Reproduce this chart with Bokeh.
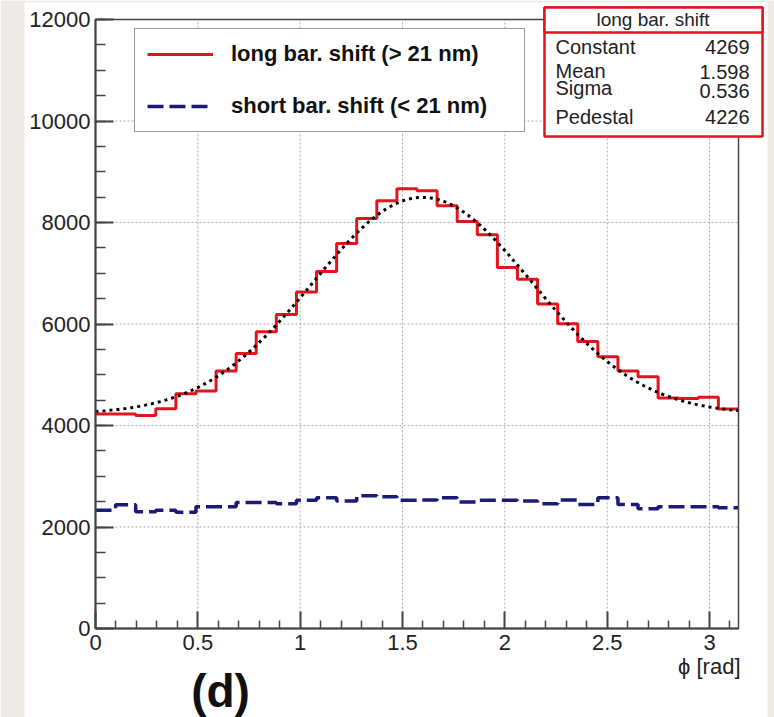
import numpy as np
from bokeh.plotting import figure
from bokeh.models import FixedTicker, Label, BoxAnnotation, Legend, LegendItem, Range1d
from bokeh.embed import file_html
from bokeh.resources import INLINE

# ---------------- data ----------------
n_bins = 32
x_min, x_max = 0.0, np.pi
y_min, y_max = 0, 12000

long_counts = [4225, 4225, 4199, 4332, 4624, 4678, 5076, 5421, 5847, 6186, 6631,
               7036, 7587, 8080, 8431, 8664, 8624, 8331, 8020, 7761, 7115, 6884,
               6392, 6007, 5654, 5355, 5076, 4963, 4544, 4532, 4558, 4325]
short_counts = [2332, 2438, 2299, 2332, 2292, 2398, 2398, 2485, 2485, 2458, 2525,
                2578, 2511, 2617, 2598, 2525, 2531, 2578, 2491, 2525, 2525, 2511,
                2458, 2531, 2445, 2578, 2445, 2359, 2398, 2398, 2398, 2378]

fit_constant = 4269
fit_mean = 1.598
fit_sigma = 0.536
fit_pedestal = 4226

legend_labels = ["long bar. shift (> 21 nm)", "short bar. shift (< 21 nm)"]
stats_title = "long bar. shift"
stats_names = ["Constant", "Mean", "Sigma", "Pedestal"]
stats_values = ["4269", "1.598", "0.536", "4226"]

x_tick_values = [0, 0.5, 1, 1.5, 2, 2.5, 3]
x_tick_labels = ["0", "0.5", "1", "1.5", "2", "2.5", "3"]
x_minor_ticks = [0.1, 0.2, 0.3, 0.4, 0.6, 0.7, 0.8, 0.9, 1.1, 1.2, 1.3, 1.4, 1.6, 1.7,
                 1.8, 1.9, 2.1, 2.2, 2.3, 2.4, 2.6, 2.7, 2.8, 2.9, 3.1]
y_tick_values = [0, 2000, 4000, 6000, 8000, 10000, 12000]
y_tick_labels = ["0", "2000", "4000", "6000", "8000", "10000", "12000"]
y_minor_ticks = list(range(0, 12001, 500))
x_title = "\u03d5 [rad]"
panel_tag = "(d)"

# ---------------- layout (pixels) ----------------
W, H = 774, 717
FL, FR, FT, FB = 95, 738, 19, 628      # data frame edges on the canvas
px_x = (FR - FL) / (x_max - x_min)
px_y = (FB - FT) / (y_max - y_min)
x_lo = x_min - FL / px_x
x_hi = x_max + (W - FR) / px_x
y_lo = y_min - (H - FB) / px_y
y_hi = y_max + FT / px_y

def sy(py):
    return H - py

FONT = "Liberation Sans"
RED = "#e5141c"
NAVY = "#1a1a78"
AXC = "#444444"
BEIGE = "#eeebe6"

# ---------------- derived ----------------
edges = np.linspace(x_min, x_max, n_bins + 1)
long_y = list(long_counts) + [long_counts[-1]]
short_y = list(short_counts) + [short_counts[-1]]
fx = np.linspace(x_min, x_max, 400)
fy = fit_constant * np.exp(-0.5 * ((fx - fit_mean) / fit_sigma) ** 2) + fit_pedestal

p = figure(frame_width=W, frame_height=H, min_border=0,
           x_range=Range1d(x_lo, x_hi), y_range=Range1d(y_lo, y_hi),
           output_backend="svg", toolbar_location=None)
p.title.visible = False
p.background_fill_color = "white"
p.border_fill_color = "white"
p.outline_line_color = None
p.xgrid.visible = False
p.ygrid.visible = False

# page strips
for l, r, b, t in [(0, 24, 0, H), (767, W, 0, H), (0, W, H - 2, H)]:
    p.add_layout(BoxAnnotation(left=l, right=r, bottom=b, top=t,
                               left_units="screen", right_units="screen",
                               bottom_units="screen", top_units="screen",
                               fill_color=BEIGE, fill_alpha=1.0, line_color=None, level="underlay"))

# axes at the data frame
p.xaxis.fixed_location = y_min
p.xaxis.bounds = (x_min, x_max)
p.yaxis.fixed_location = x_min
p.yaxis.bounds = (y_min, y_max)
p.xaxis.ticker = FixedTicker(ticks=x_tick_values, minor_ticks=x_minor_ticks)
p.xaxis.major_label_overrides = {v: l for v, l in zip(x_tick_values, x_tick_labels)}
p.yaxis.ticker = FixedTicker(ticks=y_tick_values, minor_ticks=y_minor_ticks)
p.yaxis.major_label_overrides = {v: l for v, l in zip(y_tick_values, y_tick_labels)}

for ax in (p.xaxis[0], p.yaxis[0]):
    ax.axis_line_color = AXC
    ax.axis_line_width = 2
    ax.major_tick_line_color = AXC
    ax.major_tick_line_width = 2
    ax.minor_tick_line_color = AXC
    ax.minor_tick_line_width = 1.5
    ax.major_tick_out = 0
    ax.minor_tick_out = 0
    ax.major_label_text_font = FONT
    ax.major_label_text_font_size = "22px"
    ax.major_label_text_color = "#222222"

p.xaxis.major_tick_in = 17
p.xaxis.minor_tick_in = 8
p.xaxis.major_label_standoff = 6
p.yaxis.major_tick_in = 18
p.yaxis.minor_tick_in = 10
p.yaxis.major_label_standoff = 5

# dotted grid at major ticks
gx = [v for v in x_tick_values if v != x_min]
gy = [v for v in y_tick_values if v not in (y_min, y_max)]
p.segment(x0=gx, y0=[y_min] * len(gx), x1=gx, y1=[y_max] * len(gx),
          line_color="#aaaaaa", line_width=1, line_dash="2 2", level="underlay")
p.segment(x0=[x_min] * len(gy), y0=gy, x1=[x_max] * len(gy), y1=gy,
          line_color="#aaaaaa", line_width=1, line_dash="2 2", level="underlay")

# frame box (top and right edges)
p.add_layout(BoxAnnotation(left=x_min, right=x_max, bottom=y_min, top=y_max,
                           fill_alpha=0, line_color=AXC, line_alpha=1.0, line_width=1.5))

# histograms and fit
r_long = p.step(edges, long_y, mode="after", line_color=RED, line_width=3)
r_short = p.step(edges, short_y, mode="after", line_color=NAVY, line_width=3.5, line_dash="16 6")
p.line(fx, fy, line_color="black", line_width=3, line_dash="3 4")

# legend
legend = Legend(items=[LegendItem(label=legend_labels[0], renderers=[r_long]),
                       LegendItem(label=legend_labels[1], renderers=[r_short])],
                location=(134, sy(132)), orientation="vertical",
                label_text_font=FONT, label_text_font_style="bold", label_text_font_size="22px",
                label_text_color="#111111",
                glyph_width=66, glyph_height=20, label_standoff=18, label_width=281,
                padding=12, spacing=26, margin=0,
                border_line_color="#333333", border_line_width=1.5,
                background_fill_color="white", background_fill_alpha=1.0)
p.add_layout(legend)

# stats box
for top, bottom in [(sy(7), sy(136)), (sy(7), sy(32))]:
    p.add_layout(BoxAnnotation(left=544, right=762, top=top, bottom=bottom,
                               left_units="screen", right_units="screen",
                               top_units="screen", bottom_units="screen",
                               fill_color="white", fill_alpha=1.0, line_color=RED,
                               line_alpha=1.0, line_width=2.5, level="overlay"))

p.add_layout(Label(x=652.5, y=sy(19), x_units="screen", y_units="screen", text=stats_title,
                   text_font=FONT, text_font_size="19px", text_align="center", text_baseline="middle",
                   text_color="#222222", level="overlay"))
name_py = [46, 70, 87, 116]
value_py = [46, 71, 90, 116]
for nm, vl, ny, vy in zip(stats_names, stats_values, name_py, value_py):
    p.add_layout(Label(x=555, y=sy(ny), x_units="screen", y_units="screen", text=nm,
                       text_font=FONT, text_font_size="20px", text_align="left", text_baseline="middle",
                       text_color="#222222", level="overlay"))
    p.add_layout(Label(x=749, y=sy(vy), x_units="screen", y_units="screen", text=vl,
                       text_font=FONT, text_font_size="20px", text_align="right", text_baseline="middle",
                       text_color="#222222", level="overlay"))

# axis title and panel tag
p.add_layout(Label(x=740, y=sy(666), x_units="screen", y_units="screen", text=x_title,
                   text_font=FONT, text_font_size="22px", text_align="right", text_baseline="middle",
                   text_color="#222222"))
p.add_layout(Label(x=220, y=sy(690), x_units="screen", y_units="screen", text=panel_tag,
                   text_font=FONT, text_font_size="46px", text_font_style="bold",
                   text_align="center", text_baseline="middle", text_color="#111111"))

open("out.html", "w").write(file_html(p, INLINE))
